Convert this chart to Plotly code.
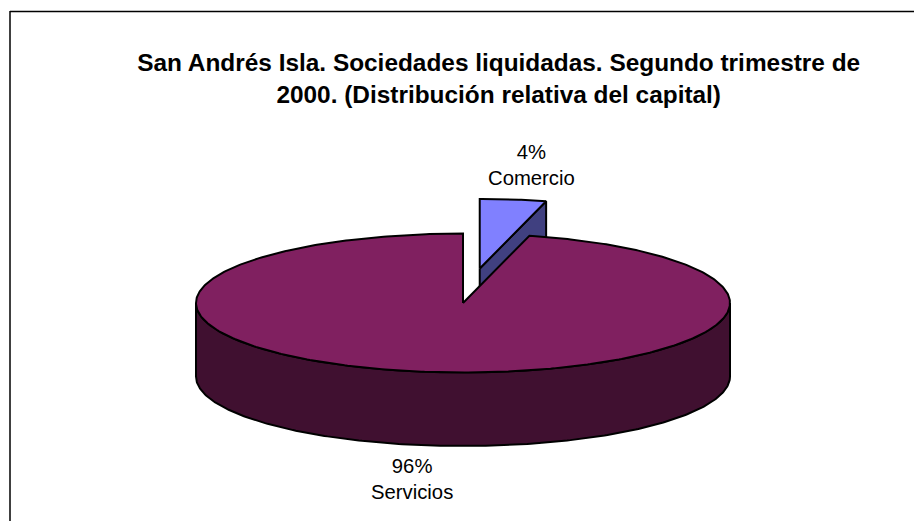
import numpy as np
import plotly.graph_objects as go

# Data
categorias = ["Comercio", "Servicios"]
valores = [4, 96]
titulo = ["San Andrés Isla. Sociedades liquidadas. Segundo trimestre de",
          "2000. (Distribución relativa del capital)"]

# Oblique pie projection
CX, CY, RX, RY, DEPTH, EXPLODE = 463, 303, 267, 69.5, 73.5, 0.5
W, H = 914, 521
total = sum(valores)
corte = 2 * np.pi * valores[0] / total


def punto(theta, ox=0.0, oy=0.0):
    """Screen position on the rim, theta clockwise from 12 o'clock."""
    return CX + ox + RX * np.sin(theta), CY + oy - RY * np.cos(theta)


def trazo(x, y, color):
    return go.Scatter(x=np.asarray(x), y=np.asarray(y), mode="lines", fill="toself",
                      fillcolor=color, line=dict(color="#000000", width=2),
                      hoverinfo="skip", showlegend=False)


medio = corte / 2
ox = EXPLODE * RX * np.sin(medio)
oy = -EXPLODE * RY * np.cos(medio)

fig = go.Figure()

# Comercio: exploded slice, inner cut face first, then its top
ex, ey = punto(corte, ox, oy)
ax, ay = CX + ox, CY + oy
fig.add_trace(trazo([ax, ex, ex, ax, ax], [ay, ey, ey + DEPTH, ay + DEPTH, ay], "#404080"))
t = np.linspace(0, corte, 30)
sx, sy = punto(t, ox, oy)
fig.add_trace(trazo(np.r_[ax, sx, ax], np.r_[ay, sy, ay], "#8080FF"))

# Servicios: front wall, then top
t = np.linspace(np.pi / 2, 3 * np.pi / 2, 240)
sx, sy = punto(t)
fig.add_trace(trazo(np.r_[sx, sx[::-1], sx[0]], np.r_[sy, sy[::-1] + DEPTH, sy[0]], "#401030"))
t = np.linspace(corte, 2 * np.pi, 480)
sx, sy = punto(t)
fig.add_trace(trazo(np.r_[CX, sx, CX], np.r_[CY, sy, CY], "#802060"))

etiquetas = [
    dict(x=531, y=165, text=f"{valores[0]}%<br>{categorias[0]}"),
    dict(x=411.5, y=479, text=f"{valores[1]}%<br>{categorias[1]}"),
]

fig.update_layout(
    width=W, height=H, autosize=False,
    margin=dict(l=0, r=0, t=0, b=0),
    paper_bgcolor="#FFFFFF", plot_bgcolor="#FFFFFF",
    font=dict(family="Liberation Sans, Arial, sans-serif", color="#000000"),
    title=dict(text="<br>".join(titulo), x=498.7 / W, xanchor="center",
               y=1 - 71 / H, yanchor="top", yref="container",
               font=dict(size=24.4, color="#000000", family="Liberation Sans, Arial, sans-serif", weight="bold")),
    xaxis=dict(range=[0, W], visible=False, fixedrange=True),
    yaxis=dict(range=[H, 0], visible=False, fixedrange=True),
    annotations=[dict(xref="x", yref="y", showarrow=False, xanchor="center", yanchor="middle",
                      font=dict(size=20.3, color="#000000"), **e) for e in etiquetas],
    shapes=[
        dict(type="line", xref="x", yref="y", x0=10, x1=10, y0=11, y1=H,
             line=dict(color="#404040", width=2)),
        dict(type="line", xref="x", yref="y", x0=10, x1=W, y0=11.5, y1=11.5,
             line=dict(color="#000000", width=1.5)),
    ],
)

fig.write_html("out.html", config={"displayModeBar": False},
               post_script="document.body.style.margin='0';")
